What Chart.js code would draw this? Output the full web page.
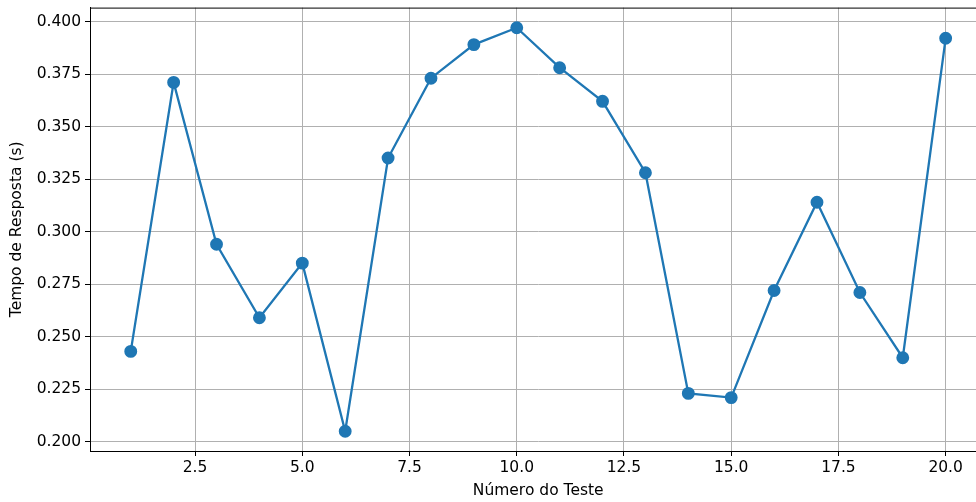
<!DOCTYPE html>
<html lang="pt">
<head>
    <meta charset="UTF-8">
    <title>Tempo de Resposta por Teste</title>
    <style>
        html, body { margin: 0; padding: 0; background: #fff; overflow: hidden; }
        #wrap { width: 994px; height: 502px; }
    </style>
</head>
<body>
    <div id="wrap"><canvas id="chart" width="994" height="502"></canvas></div>

    <script src="https://cdn.jsdelivr.net/npm/chart.js"></script>
    <script>
        // valores
        const testes = [1, 2, 3, 4, 5, 6, 7, 8, 9, 10, 11, 12, 13, 14, 15, 16, 17, 18, 19, 20];
        const tempos = [0.243, 0.371, 0.294, 0.259, 0.285, 0.205, 0.335, 0.373, 0.389, 0.397,
                        0.378, 0.362, 0.328, 0.223, 0.221, 0.272, 0.314, 0.271, 0.240, 0.392];
        const xTicks = [2.5, 5.0, 7.5, 10.0, 12.5, 15.0, 17.5, 20.0];
        const yTicks = [0.200, 0.225, 0.250, 0.275, 0.300, 0.325, 0.350, 0.375, 0.400];

        const fonte = { family: '"DejaVu Sans", sans-serif', size: 15.5 };

        // moldura superior (estilo matplotlib)
        const moldura = {
            id: 'moldura',
            afterDraw(chart) {
                const a = chart.chartArea, ctx = chart.ctx;
                ctx.save();
                ctx.strokeStyle = '#000';
                ctx.lineWidth = 1;
                ctx.strokeRect(a.left + 0.5, a.top + 0.5, a.right - a.left, a.bottom - a.top);
                ctx.restore();
            }
        };

        new Chart(document.getElementById('chart'), {
            type: 'line',
            data: {
                datasets: [{
                    data: testes.map((t, i) => ({ x: t, y: tempos[i] })),
                    borderColor: '#1f77b4',
                    backgroundColor: '#1f77b4',
                    borderWidth: 2.3,
                    pointRadius: 5.3,
                    pointHoverRadius: 5.3,
                    tension: 0
                }]
            },
            options: {
                responsive: false,
                animation: false,
                layout: { padding: { top: 5, right: 5, left: 0, bottom: 0 } },
                plugins: { legend: { display: false }, tooltip: { enabled: false } },
                scales: {
                    x: {
                        type: 'linear',
                        min: 0.05,
                        max: 20.95,
                        afterBuildTicks: s => { s.ticks = xTicks.map(v => ({ value: v })); },
                        afterFit: s => { s.height = 51; s.paddingLeft = 0; s.paddingRight = 0; },
                        grid: { color: '#b0b0b0', lineWidth: 1, tickColor: '#000', tickLength: 5 },
                        border: { color: '#000', width: 1 },
                        ticks: { color: '#000', font: fonte, padding: 3, maxRotation: 0,
                                 callback: v => v.toFixed(1) },
                        title: { display: true, text: 'Número do Teste', color: '#000', font: fonte,
                                 padding: { top: 2, bottom: 2 } }
                    },
                    y: {
                        min: 0.1956,
                        max: 0.4066,
                        afterBuildTicks: s => { s.ticks = yTicks.map(v => ({ value: v })); },
                        afterFit: s => { s.width = 90; s.paddingTop = 0; s.paddingBottom = 0; },
                        grid: { color: '#b0b0b0', lineWidth: 1, tickColor: '#000', tickLength: 5 },
                        border: { color: '#000', width: 1 },
                        ticks: { color: '#000', font: fonte, padding: 4,
                                 callback: v => v.toFixed(3) },
                        title: { display: true, text: 'Tempo de Resposta (s)', color: '#000', font: fonte,
                                 padding: { top: 8, bottom: 4 } }
                    }
                }
            },
            plugins: [moldura]
        });
    </script>
</body>
</html>
